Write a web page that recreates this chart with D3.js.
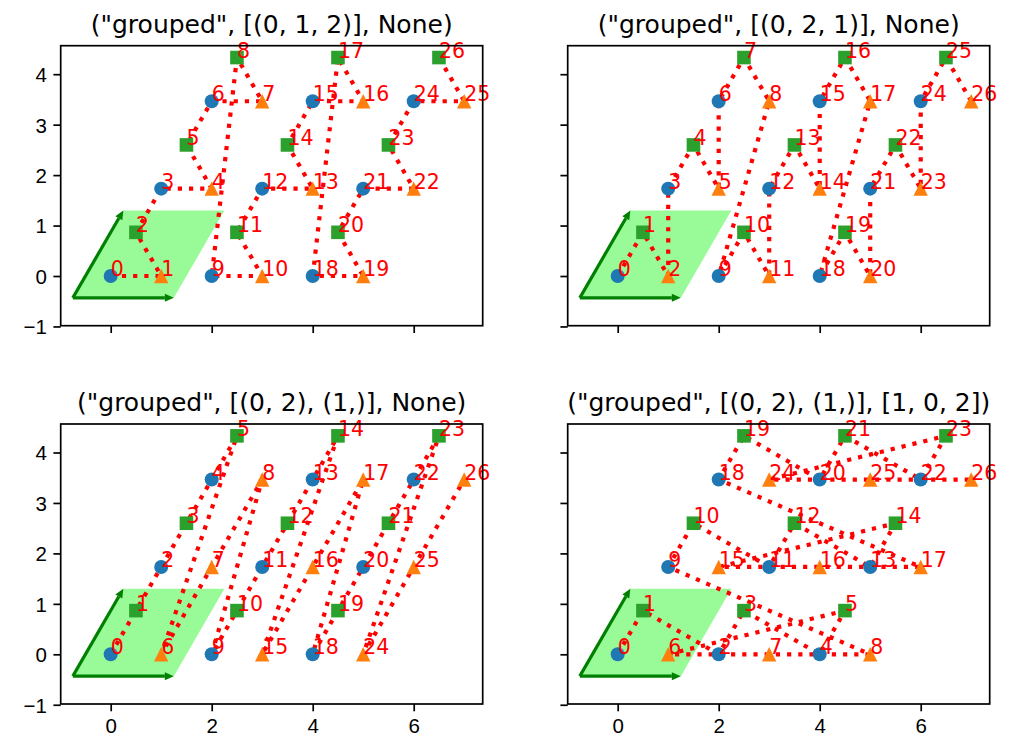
<!DOCTYPE html>
<html>
<head>
<meta charset="utf-8">
<script src="https://cdn.jsdelivr.net/npm/d3@7"></script>
<style>
  body { margin: 0; background: #fff; }
  svg { font-family: "DejaVu Sans", sans-serif; }
  .tick text { font-size: 20.5px; fill: #000; }
  .tick line { stroke: #000; stroke-width: 1.7; }
  .title { font-size: 25px; fill: #000; }
  .spine { fill: none; stroke: #000; stroke-width: 1.7; }
  .order-line { fill: none; stroke: #ff0000; stroke-width: 4.2; stroke-dasharray: 4.2 7; }
  .order-label { font-size: 20.5px; fill: #ff0000; }
</style>
</head>
<body>
<div id="chart"></div>
<script>
// Panel titles
var titles = [
  '("grouped", [(0, 1, 2)], None)',
  '("grouped", [(0, 2, 1)], None)',
  '("grouped", [(0, 2), (1,)], None)',
  '("grouped", [(0, 2), (1,)], [1, 0, 2])'
];

// Site positions (same in every panel)
var siteX = [0, 1, 0.5, 1, 2, 1.5, 2, 3, 2.5,
             2, 3, 2.5, 3, 4, 3.5, 4, 5, 4.5,
             4, 5, 4.5, 5, 6, 5.5, 6, 7, 6.5];
var siteY = [0, 0, 0.866, 1.732, 1.732, 2.598, 3.464, 3.464, 4.33,
             0, 0, 0.866, 1.732, 1.732, 2.598, 3.464, 3.464, 4.33,
             0, 0, 0.866, 1.732, 1.732, 2.598, 3.464, 3.464, 4.33];
// 0 = circle, 1 = triangle, 2 = square
var siteKind = [0, 1, 2, 0, 1, 2, 0, 1, 2,
                0, 1, 2, 0, 1, 2, 0, 1, 2,
                0, 1, 2, 0, 1, 2, 0, 1, 2];

// Visiting order of the sites in each panel
var orders = [
  [0, 1, 2, 3, 4, 5, 6, 7, 8, 9, 10, 11, 12, 13, 14, 15, 16, 17, 18, 19, 20, 21, 22, 23, 24, 25, 26],
  [0, 2, 1, 3, 5, 4, 6, 8, 7, 9, 11, 10, 12, 14, 13, 15, 17, 16, 18, 20, 19, 21, 23, 22, 24, 26, 25],
  [0, 2, 3, 5, 6, 8, 1, 4, 7, 9, 11, 12, 14, 15, 17, 10, 13, 16, 18, 20, 21, 23, 24, 26, 19, 22, 25],
  [0, 2, 9, 11, 18, 20, 1, 10, 19, 3, 5, 12, 14, 21, 23, 4, 13, 22, 6, 8, 15, 17, 24, 26, 7, 16, 25]
];

// Unit cell
var cellOrigin = [-0.75, -0.433];
var cellA1 = [2, 0];
var cellA2 = [1, 1.732];

var xTicks = [0, 2, 4, 6];
var yTicks = [-1, 0, 1, 2, 3, 4];

var markerColors = ["#1f77b4", "#ff7f0e", "#2ca02c"];

var width = 1012, height = 754;
var panelW = 422, panelH = 280;
var panelLeft = [60.7, 567.7], panelTop = [45.7, 424];

var svg = d3.select("#chart")
  .append("svg")
  .attr("width", width)
  .attr("height", height);

var sites = siteX.map((x, i) => ({ x: x, y: siteY[i], kind: siteKind[i] }));

titles.forEach(function (title, p) {
  var row = Math.floor(p / 2), col = p % 2;
  var left = panelLeft[col], top = panelTop[row];

  var x = d3.scaleLinear().domain([-0.99, 7.366]).range([left, left + panelW]);
  var y = d3.scaleLinear().domain([-0.985, 4.565]).range([top + panelH, top]);

  var g = svg.append("g");

  // unit cell fill
  var corners = [
    cellOrigin,
    [cellOrigin[0] + cellA1[0], cellOrigin[1] + cellA1[1]],
    [cellOrigin[0] + cellA1[0] + cellA2[0], cellOrigin[1] + cellA1[1] + cellA2[1]],
    [cellOrigin[0] + cellA2[0], cellOrigin[1] + cellA2[1]]
  ];
  g.append("polygon")
    .attr("points", corners.map((c) => [x(c[0]), y(c[1])].join(",")).join(" "))
    .attr("fill", "#98fb98");

  // lattice vector arrows
  [cellA1, cellA2].forEach(function (v) {
    var x0 = x(cellOrigin[0]), y0 = y(cellOrigin[1]);
    var x1 = x(cellOrigin[0] + v[0]), y1 = y(cellOrigin[1] + v[1]);
    var len = Math.hypot(x1 - x0, y1 - y0);
    var ux = (x1 - x0) / len, uy = (y1 - y0) / len;
    var hl = 9, hw = 4;
    g.append("line")
      .attr("x1", x0).attr("y1", y0)
      .attr("x2", x1 - ux * hl).attr("y2", y1 - uy * hl)
      .attr("stroke", "#008000")
      .attr("stroke-width", 3.2);
    g.append("polygon")
      .attr("points", [
        [x1, y1],
        [x1 - ux * hl - uy * hw, y1 - uy * hl + ux * hw],
        [x1 - ux * hl + uy * hw, y1 - uy * hl - ux * hw]
      ].map((d) => d.join(",")).join(" "))
      .attr("fill", "#008000");
  });

  // dotted path through the sites in order
  var line = d3.line()
    .x((i) => x(sites[i].x))
    .y((i) => y(sites[i].y));
  g.append("path")
    .datum(orders[p])
    .attr("class", "order-line")
    .attr("d", line);

  // markers
  sites.forEach(function (s) {
    var cx = x(s.x), cy = y(s.y);
    if (s.kind === 0) {
      g.append("circle").attr("cx", cx).attr("cy", cy).attr("r", 7)
        .attr("fill", markerColors[0]);
    } else if (s.kind === 1) {
      var h = 7.2;
      g.append("polygon")
        .attr("points", [[cx, cy - h], [cx - h, cy + h], [cx + h, cy + h]].map((d) => d.join(",")).join(" "))
        .attr("fill", markerColors[1]);
    } else {
      var a = 6.8;
      g.append("rect").attr("x", cx - a).attr("y", cy - a)
        .attr("width", 2 * a).attr("height", 2 * a)
        .attr("fill", markerColors[2]);
    }
  });

  // order labels
  orders[p].forEach(function (siteIndex, k) {
    g.append("text")
      .attr("class", "order-label")
      .attr("x", x(sites[siteIndex].x))
      .attr("y", y(sites[siteIndex].y))
      .text(k);
  });

  // axes
  var xAxis = d3.axisBottom(x).tickValues(xTicks).tickFormat(d3.format("d"))
    .tickSize(7.3).tickSizeOuter(0).tickPadding(6.5);
  var yAxis = d3.axisLeft(y).tickValues(yTicks).tickFormat(d3.format("d"))
    .tickSize(7.3).tickSizeOuter(0).tickPadding(6.5);

  var gx = g.append("g")
    .attr("transform", "translate(0," + (top + panelH) + ")")
    .call(xAxis);
  var gy = g.append("g")
    .attr("transform", "translate(" + left + ",0)")
    .call(yAxis);
  gx.select(".domain").remove();
  gy.select(".domain").remove();
  gx.selectAll("text").attr("dy", "0.76em");
  gy.selectAll("text").attr("dy", "0.36em");
  if (row === 0) gx.selectAll("text").remove();
  if (col === 1) gy.selectAll("text").remove();

  g.append("rect")
    .attr("class", "spine")
    .attr("x", left).attr("y", top)
    .attr("width", panelW).attr("height", panelH);

  g.append("text")
    .attr("class", "title")
    .attr("x", left + panelW / 2)
    .attr("y", top - 12.6)
    .attr("text-anchor", "middle")
    .text(title);
});
</script>
</body>
</html>
